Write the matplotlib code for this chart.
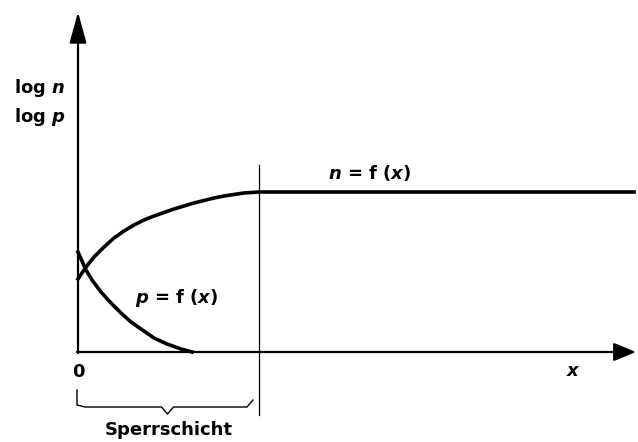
import matplotlib
matplotlib.use("Agg")
import matplotlib.pyplot as plt

plt.rcParams['font.family'] = ['DejaVu Sans']
plt.rcParams['mathtext.fontset'] = 'custom'
plt.rcParams['mathtext.it'] = 'DejaVu Sans:italic:bold'
plt.rcParams['mathtext.rm'] = 'DejaVu Sans:bold'

# electron density n(x): rises through the depletion layer, then flat
n_x = [0, 8, 16, 26, 36, 46, 56, 66, 76, 86, 96, 106, 116, 126, 136,
       146, 156, 166, 181, 556]
n_y = [73, 85, 95, 105, 114, 121, 127, 132, 136, 139.5, 143, 146, 149, 151.5,
       154, 156, 157.5, 159, 160, 160]

# hole density p(x): falls off inside the layer
p_x = [0, 8, 14, 23, 33, 43, 53, 63, 76, 89, 103, 114]
p_y = [100, 82, 72, 60, 49, 39, 30, 23, 14, 8, 3, 0]

layer_start = 0
layer_end = 181

fig = plt.figure(figsize=(6.38, 4.42), dpi=100)
ax = fig.add_axes([0, 0, 1, 1])
ax.set_xlim(-78, 560)
ax.set_ylim(-90, 352)
ax.axis('off')

# axes with arrow heads
ax.annotate('', xy=(0, 340), xytext=(0, -1),
            arrowprops=dict(arrowstyle='-|>,head_length=0.95,head_width=0.26',
                            lw=1.6, color='black', mutation_scale=20,
                            shrinkA=0, shrinkB=0))
ax.annotate('', xy=(558, 0), xytext=(-1, 0),
            arrowprops=dict(arrowstyle='-|>,head_length=0.68,head_width=0.28',
                            lw=1.6, color='black', mutation_scale=20,
                            shrinkA=0, shrinkB=0))

# curves
ax.plot(n_x, n_y, color='black', lw=2.6, solid_joinstyle='round')
ax.plot(p_x, p_y, color='black', lw=2.6, solid_joinstyle='round')

# boundary of the depletion layer
ax.plot([layer_end, layer_end], [-63, 187], color='black', lw=0.9)

# brace under the layer
mid = (layer_start + layer_end) / 2 - 1
bx = [layer_start - 1, layer_start - 1, layer_start + 7, mid - 6, mid, mid + 6,
      layer_end - 12, layer_end - 6]
by = [-38, -53, -55, -55, -62, -55, -55, -48]
ax.plot(bx, by, color='black', lw=1.0)

kw = dict(fontsize=13, fontweight='bold')
ax.text(-64, 264, r'log $n$', ha='left', va='center', **kw)
ax.text(-64, 235, r'log $p$', ha='left', va='center', **kw)
ax.text(250, 179, r'$n$ = f ($x$)', ha='left', va='center', **kw)
ax.text(57, 54, r'$p$ = f ($x$)', ha='left', va='center', **kw)
ax.text(0, -20, '0', ha='center', va='center', **kw)
ax.text(495, -19, r'$x$', ha='center', va='center', **kw)
ax.text(91, -78, 'Sperrschicht', ha='center', va='center', **kw)

fig.savefig('out.png', dpi=100)
